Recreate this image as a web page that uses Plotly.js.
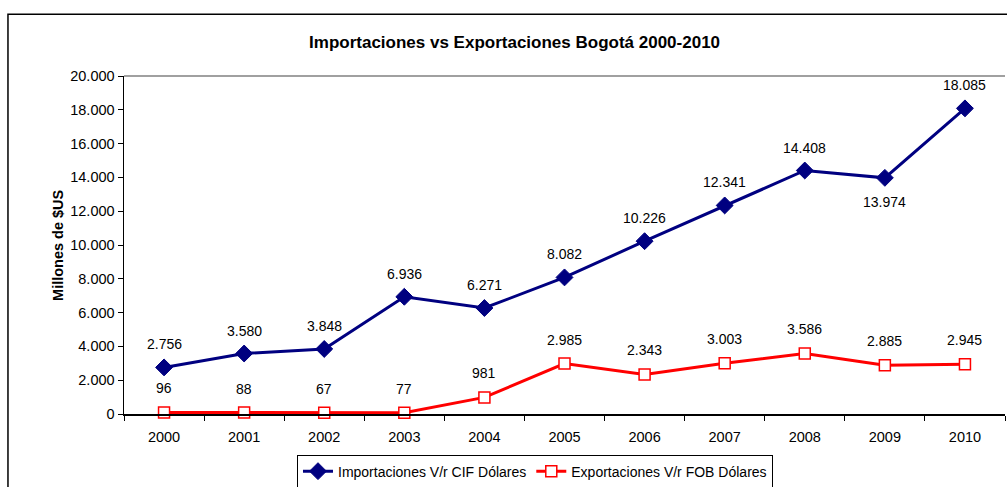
<!DOCTYPE html>
<html>
<head>
<meta charset="utf-8">
<script src="https://cdn.plot.ly/plotly-3.0.1.min.js"></script>
<style>html,body{margin:0;padding:0;background:#fff;}#chart{width:1007px;height:487px;}</style>
</head>
<body>
<div id="chart"></div>
<script>
var years = ['2000','2001','2002','2003','2004','2005','2006','2007','2008','2009','2010'];
var importaciones = [2756, 3580, 3848, 6936, 6271, 8082, 10226, 12341, 14408, 13974, 18085];
var exportaciones = [96, 88, 67, 77, 981, 2985, 2343, 3003, 3586, 2885, 2945];
var yTickVals = [0, 2000, 4000, 6000, 8000, 10000, 12000, 14000, 16000, 18000, 20000];

function fmt(v) { return String(v).replace(/\B(?=(\d{3})+(?!\d))/g, '.'); }

var FONT = 'Liberation Sans, Arial, sans-serif';

var traces = [
  {
    x: years, y: importaciones, type: 'scatter', mode: 'lines+markers',
    name: 'Importaciones V/r CIF Dólares',
    line: {color: '#000080', width: 3},
    marker: {symbol: 'diamond', size: 13, color: '#000080', line: {color: '#000080', width: 1}},
    cliponaxis: false
  },
  {
    x: years, y: exportaciones, type: 'scatter', mode: 'lines+markers',
    name: 'Exportaciones V/r FOB Dólares',
    line: {color: '#FF0000', width: 3},
    marker: {symbol: 'square', size: 11, color: '#FFFFFF', line: {color: '#FF0000', width: 1.5}},
    cliponaxis: false
  }
];

var annotations = [];
years.forEach(function (yr, i) {
  var below = (i === 9);
  annotations.push({
    x: i, y: importaciones[i], xref: 'x', yref: 'y', text: fmt(importaciones[i]),
    showarrow: false, yshift: below ? -24 : 23,
    font: {family: FONT, size: 14, color: '#000'}
  });
  annotations.push({
    x: i, y: exportaciones[i], xref: 'x', yref: 'y', text: fmt(exportaciones[i]),
    showarrow: false, yshift: 24,
    font: {family: FONT, size: 14, color: '#000'}
  });
});
annotations.push({
  x: -0.075, y: 0.5, xref: 'paper', yref: 'paper', text: '<b>Millones de $US</b>',
  textangle: -90, showarrow: false, xanchor: 'center', yanchor: 'middle',
  font: {family: FONT, size: 14.5, color: '#000'}
});

var layout = {
  width: 1007, height: 487,
  margin: {l: 124, r: 2, t: 76, b: 73, autoexpand: false},
  paper_bgcolor: '#fff', plot_bgcolor: '#fff',
  separators: ',.',
  font: {family: FONT, size: 14, color: '#000'},
  title: {
    text: '<b>Importaciones vs Exportaciones Bogotá 2000-2010</b>',
    x: 0.511, xref: 'container', xanchor: 'center',
    y: 1 - 42 / 487, yref: 'container', yanchor: 'middle',
    font: {family: FONT, size: 17, color: '#000'}
  },
  xaxis: {
    type: 'category', range: [-0.5, 10.5],
    showline: true, linecolor: '#000', linewidth: 1.5,
    ticks: 'outside', ticklen: 5, tickcolor: '#000', tickson: 'boundaries',
    ticklabelstandoff: 9,
    showgrid: false, zeroline: false, automargin: false,
    tickfont: {family: FONT, size: 14.5, color: '#000'}
  },
  yaxis: {
    range: [0, 20000], tickvals: yTickVals, tickformat: ',d',
    showline: true, linecolor: '#000', linewidth: 1.5,
    ticks: 'outside', ticklen: 5, tickcolor: '#000',
    showgrid: false, zeroline: false, automargin: false,
    tickfont: {family: FONT, size: 14.5, color: '#000'}
  },
  showlegend: true,
  legend: {
    orientation: 'h', x: 0.4665, xanchor: 'center', y: -0.12, yanchor: 'top',
    bordercolor: '#000', borderwidth: 1, bgcolor: '#fff',
    font: {family: FONT, size: 14, color: '#000'},
    itemwidth: 30, tracegroupgap: 0
  },
  annotations: annotations,
  shapes: [
    {type: 'line', xref: 'paper', yref: 'paper', x0: 0, x1: 1, y0: 1, y1: 1,
     line: {color: '#808080', width: 1.5}},
    {type: 'rect', xref: 'paper', yref: 'paper', x0: -0.1317, x1: 1.2, y0: -1, y1: 1.183,
     line: {color: '#000', width: 1.5}, fillcolor: 'rgba(0,0,0,0)', layer: 'below'}
  ]
};

Plotly.newPlot('chart', traces, layout, {displayModeBar: false, staticPlot: true});
</script>
</body>
</html>
